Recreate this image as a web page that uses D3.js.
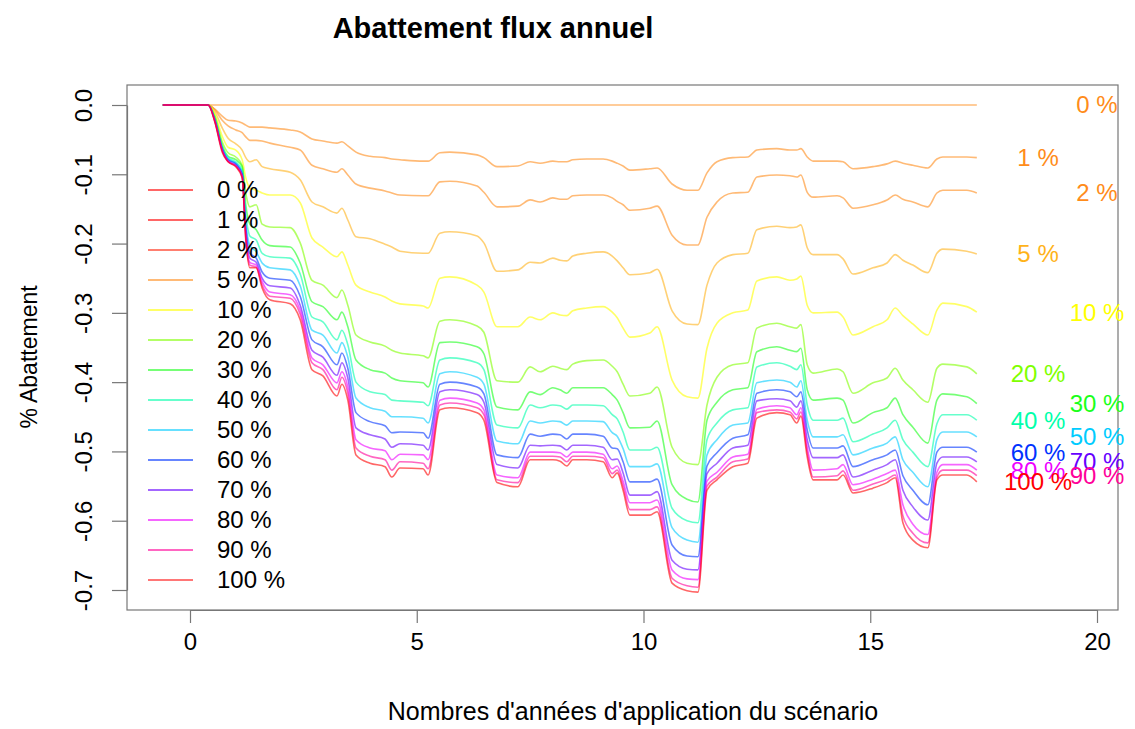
<!DOCTYPE html>
<html><head><meta charset="utf-8">
<script src="https://cdn.jsdelivr.net/npm/d3@7"></script>
<style>
body{margin:0;background:#fff}
text{font-family:"Liberation Sans",Arial,Helvetica,sans-serif}
</style>
</head><body>
<svg id="c" width="1135" height="729"></svg>
<script>
// ---------- data ----------
const years=[-0.6,0.40,0.55,0.71,0.84,1.01,1.15,1.23,1.32,1.46,1.59,1.76,2.21,2.43,2.69,2.93,3.24,3.35,3.48,3.66,3.97,4.30,4.45,4.63,5.14,5.25,5.51,5.73,6.33,6.48,6.77,7.23,7.50,7.72,8.00,8.16,8.31,8.44,8.75,9.11,9.31,9.42,9.55,9.70,10.14,10.30,10.63,10.96,11.20,11.40,11.62,11.97,12.30,12.50,12.94,13.23,13.38,13.47,13.61,13.74,14.27,14.40,14.62,15.06,15.37,15.55,15.72,15.94,16.27,16.47,16.60,17.13,17.35];

const pctLabels=["0 %","1 %","2 %","5 %","10 %","20 %","30 %","40 %","50 %","60 %","70 %","80 %","90 %","100 %"];

const s0=[0,0,0,0,0,0,0,0,0,0,0,0,0,0,0,0,0,0,0,0,0,0,0,0,0,0,0,0,0,0,0,0,0,0,0,0,0,0,0,0,0,0,0,0,0,0,0,0,0,0,0,0,0,0,0,0,0,0,0,0,0,0,0,0,0,0,0,0,0,0,0,0,0];
const s1=[0,0,-.006,-.016,-.022,-.023,-.026,-.029,-.032,-.032,-.032,-.033,-.036,-.039,-.049,-.052,-.055,-.053,-.059,-.068,-.074,-.076,-.078,-.079,-.081,-.081,-.069,-.068,-.072,-.076,-.089,-.088,-.082,-.084,-.081,-.082,-.082,-.079,-.078,-.078,-.081,-.084,-.088,-.094,-.092,-.091,-.114,-.123,-.123,-.098,-.082,-.076,-.075,-.065,-.063,-.065,-.065,-.063,-.075,-.081,-.081,-.082,-.092,-.089,-.085,-.081,-.084,-.087,-.091,-.078,-.075,-.075,-.076];
const s2=[0,0,-.007,-.022,-.030,-.036,-.040,-.046,-.051,-.051,-.052,-.055,-.061,-.065,-.087,-.092,-.097,-.092,-.101,-.114,-.120,-.124,-.127,-.130,-.131,-.131,-.111,-.110,-.117,-.126,-.147,-.146,-.137,-.140,-.134,-.136,-.136,-.131,-.130,-.130,-.134,-.139,-.144,-.152,-.149,-.146,-.188,-.202,-.202,-.162,-.140,-.127,-.126,-.104,-.101,-.102,-.104,-.101,-.126,-.133,-.131,-.134,-.149,-.144,-.137,-.130,-.136,-.140,-.147,-.127,-.123,-.123,-.127];
const s5=[0,0,-.010,-.033,-.048,-.056,-.065,-.076,-.082,-.079,-.089,-.092,-.097,-.108,-.140,-.147,-.156,-.149,-.166,-.190,-.193,-.201,-.205,-.211,-.214,-.214,-.185,-.183,-.189,-.199,-.240,-.238,-.227,-.228,-.221,-.224,-.225,-.218,-.214,-.212,-.218,-.225,-.235,-.245,-.242,-.237,-.297,-.316,-.317,-.260,-.228,-.216,-.214,-.180,-.175,-.177,-.176,-.173,-.206,-.216,-.216,-.222,-.244,-.235,-.228,-.216,-.224,-.231,-.242,-.214,-.208,-.211,-.215];
const s10=[0,0,-.013,-.045,-.061,-.065,-.079,-.105,-.120,-.123,-.127,-.130,-.130,-.141,-.192,-.205,-.219,-.212,-.231,-.260,-.270,-.277,-.283,-.287,-.290,-.293,-.250,-.248,-.260,-.270,-.320,-.320,-.306,-.310,-.300,-.303,-.304,-.297,-.293,-.291,-.299,-.307,-.322,-.335,-.329,-.320,-.397,-.421,-.423,-.351,-.315,-.300,-.296,-.254,-.248,-.253,-.251,-.247,-.289,-.300,-.299,-.306,-.332,-.320,-.310,-.293,-.304,-.316,-.332,-.296,-.286,-.291,-.299];
const s20=[0,0,-.016,-.053,-.069,-.075,-.087,-.127,-.147,-.144,-.172,-.176,-.177,-.199,-.253,-.260,-.278,-.267,-.289,-.332,-.342,-.348,-.354,-.358,-.362,-.365,-.312,-.310,-.319,-.328,-.398,-.400,-.378,-.385,-.377,-.380,-.382,-.374,-.369,-.368,-.377,-.385,-.403,-.420,-.416,-.407,-.494,-.517,-.519,-.433,-.393,-.375,-.372,-.322,-.315,-.320,-.322,-.317,-.375,-.387,-.381,-.385,-.416,-.401,-.394,-.380,-.397,-.411,-.429,-.380,-.374,-.378,-.388];
const s30=[0,0,-.019,-.058,-.074,-.079,-.089,-.144,-.172,-.180,-.195,-.203,-.205,-.228,-.284,-.291,-.310,-.299,-.320,-.368,-.382,-.387,-.394,-.398,-.401,-.407,-.343,-.342,-.349,-.359,-.436,-.440,-.414,-.418,-.408,-.411,-.416,-.408,-.408,-.408,-.418,-.426,-.444,-.466,-.465,-.456,-.548,-.569,-.573,-.455,-.429,-.411,-.408,-.356,-.349,-.354,-.356,-.351,-.411,-.426,-.423,-.426,-.459,-.444,-.437,-.423,-.447,-.465,-.488,-.426,-.417,-.421,-.431];
const s40=[0,0,-.020,-.061,-.076,-.082,-.094,-.157,-.189,-.195,-.214,-.219,-.221,-.244,-.306,-.313,-.339,-.325,-.346,-.400,-.414,-.418,-.426,-.427,-.429,-.434,-.368,-.365,-.372,-.382,-.462,-.466,-.433,-.437,-.433,-.434,-.439,-.433,-.433,-.434,-.447,-.453,-.472,-.498,-.498,-.494,-.582,-.600,-.603,-.483,-.459,-.440,-.437,-.378,-.372,-.377,-.382,-.375,-.433,-.455,-.455,-.452,-.486,-.475,-.466,-.455,-.483,-.501,-.522,-.460,-.447,-.447,-.455];
const s50=[0,0,-.022,-.062,-.078,-.084,-.097,-.169,-.203,-.212,-.228,-.235,-.238,-.261,-.325,-.332,-.358,-.343,-.364,-.423,-.437,-.442,-.450,-.450,-.452,-.459,-.388,-.385,-.393,-.403,-.485,-.489,-.456,-.459,-.456,-.457,-.462,-.456,-.456,-.457,-.473,-.478,-.496,-.522,-.522,-.518,-.610,-.628,-.631,-.505,-.483,-.462,-.459,-.401,-.397,-.400,-.407,-.398,-.455,-.479,-.479,-.476,-.505,-.495,-.488,-.479,-.512,-.530,-.551,-.483,-.472,-.472,-.479];
const s60=[0,0,-.022,-.063,-.079,-.085,-.100,-.177,-.214,-.221,-.241,-.250,-.253,-.276,-.339,-.349,-.375,-.358,-.380,-.444,-.457,-.463,-.473,-.472,-.473,-.481,-.403,-.400,-.407,-.417,-.505,-.509,-.475,-.478,-.475,-.476,-.482,-.475,-.475,-.478,-.495,-.496,-.515,-.544,-.544,-.540,-.635,-.651,-.652,-.521,-.502,-.481,-.476,-.416,-.411,-.414,-.421,-.414,-.469,-.495,-.495,-.492,-.522,-.512,-.505,-.498,-.535,-.556,-.577,-.501,-.494,-.494,-.501];
const s70=[0,0,-.023,-.065,-.081,-.087,-.101,-.183,-.221,-.227,-.250,-.261,-.264,-.289,-.354,-.364,-.390,-.372,-.394,-.466,-.476,-.482,-.494,-.489,-.491,-.498,-.414,-.411,-.418,-.429,-.519,-.524,-.491,-.492,-.491,-.492,-.498,-.491,-.491,-.494,-.512,-.511,-.531,-.563,-.563,-.558,-.657,-.670,-.671,-.532,-.517,-.495,-.491,-.427,-.424,-.427,-.436,-.427,-.483,-.509,-.509,-.505,-.537,-.527,-.519,-.512,-.556,-.580,-.599,-.517,-.508,-.508,-.515];
const s80=[0,0,-.023,-.065,-.081,-.088,-.102,-.189,-.227,-.231,-.255,-.270,-.274,-.296,-.365,-.375,-.401,-.385,-.407,-.483,-.495,-.499,-.512,-.504,-.505,-.512,-.426,-.423,-.430,-.440,-.534,-.538,-.501,-.501,-.501,-.502,-.508,-.501,-.501,-.504,-.525,-.521,-.543,-.574,-.574,-.570,-.671,-.684,-.685,-.543,-.530,-.508,-.504,-.439,-.434,-.437,-.447,-.437,-.494,-.527,-.525,-.519,-.548,-.540,-.532,-.527,-.577,-.605,-.620,-.530,-.519,-.519,-.527];
const s90=[0,0,-.025,-.066,-.082,-.088,-.104,-.192,-.231,-.234,-.260,-.276,-.279,-.302,-.372,-.382,-.411,-.393,-.416,-.495,-.507,-.512,-.527,-.515,-.517,-.525,-.433,-.430,-.437,-.447,-.541,-.545,-.507,-.507,-.507,-.508,-.515,-.507,-.507,-.509,-.532,-.527,-.550,-.584,-.584,-.580,-.683,-.694,-.696,-.550,-.537,-.515,-.511,-.444,-.440,-.443,-.453,-.443,-.501,-.537,-.535,-.528,-.556,-.547,-.540,-.534,-.593,-.618,-.632,-.537,-.527,-.527,-.535];
const s100=[0,0,-.025,-.068,-.082,-.089,-.105,-.195,-.235,-.235,-.264,-.281,-.287,-.310,-.382,-.391,-.420,-.403,-.426,-.505,-.517,-.522,-.537,-.524,-.525,-.534,-.440,-.437,-.444,-.455,-.545,-.551,-.512,-.512,-.512,-.514,-.521,-.512,-.512,-.515,-.538,-.531,-.556,-.592,-.592,-.587,-.690,-.701,-.703,-.556,-.541,-.522,-.517,-.452,-.444,-.447,-.459,-.449,-.508,-.541,-.541,-.534,-.560,-.553,-.545,-.538,-.603,-.628,-.639,-.541,-.534,-.534,-.544];

const seriesValues=[s0,s1,s2,s5,s10,s20,s30,s40,s50,s60,s70,s80,s90,s100];

const xTicks=[0,5,10,15,20];
const yTicks=[0,-0.1,-0.2,-0.3,-0.4,-0.5,-0.6,-0.7];

// ---------- styles ----------
const labelColors=["#FF8C1A","#FF8C1A","#FF8C1A","#FFB31A","#FFFF00","#80FF00","#1AFF1A","#00FFAA","#00CCFF","#0033FF","#6600FF","#EE00FF","#FF0099","#FF0000"];
const legendColors=["#FF0000","#FF0000","#FF2A10","#FF8C1A","#FFFF00","#80FF00","#1AFF1A","#00FFAA","#00CCFF","#0033FF","#6600FF","#EE00FF","#FF0099","#FF1A1A"];
const labelYears=[20,18.7];

const svg=d3.select("#c");
const x=d3.scaleLinear().domain([0,20]).range([190,1097]);
const y=d3.scaleLinear().domain([0,-0.7]).range([105,590]);
const axisColor="#777";

// plot box
svg.append("rect").attr("x",127).attr("y",85).attr("width",991).attr("height",525)
  .attr("fill","none").attr("stroke",axisColor).attr("stroke-width",1.2);

// lines
const line=d3.line().x((d,i)=>x(years[i])).y(d=>y(d)).curve(d3.curveMonotoneX);
seriesValues.forEach((vals,k)=>{
  svg.append("path").datum(vals).attr("d",line)
    .attr("fill","none").attr("stroke",labelColors[k]).attr("stroke-opacity",0.6)
    .attr("stroke-width",1.6).attr("stroke-linejoin","round");
});

// end labels (overlapping at the bottom, as in the reference)
seriesValues.forEach((vals,k)=>{
  svg.append("text").attr("x",x(labelYears[k%2])).attr("y",y(vals[vals.length-1]))
    .attr("dy","0.35em").attr("text-anchor","middle").attr("font-size",24)
    .attr("fill",labelColors[k]).text(pctLabels[k]);
});

// legend
const lg=svg.append("g");
pctLabels.forEach((lab,k)=>{
  const yy=190+30*k;
  lg.append("line").attr("x1",148).attr("x2",193).attr("y1",yy).attr("y2",yy)
    .attr("stroke",legendColors[k]).attr("stroke-opacity",0.6).attr("stroke-width",1.8);
  lg.append("text").attr("x",217).attr("y",yy).attr("dy","0.35em")
    .attr("font-size",24).attr("fill","#000").text(lab);
});

// axes
const ya=svg.append("g").attr("transform","translate(127,0)")
  .call(d3.axisLeft(y).tickValues(yTicks).tickSize(15).tickSizeOuter(0).tickFormat(d=>d.toFixed(1)));
ya.selectAll("text").attr("x",0).attr("dy",0).attr("text-anchor","middle")
  .attr("transform","translate(-35,0) rotate(-90)");
const xa=svg.append("g").attr("transform","translate(0,610)")
  .call(d3.axisBottom(x).tickValues(xTicks).tickSize(13).tickSizeOuter(0).tickPadding(10).tickFormat(d3.format("d")));
[ya,xa].forEach(a=>{
  a.selectAll("path,line").attr("stroke",axisColor).attr("stroke-width",1.2);
  a.selectAll("text").attr("font-size",24).attr("fill","#000")
   .attr("font-family","'Liberation Sans',Arial,Helvetica,sans-serif");
});

// titles
svg.append("text").attr("x",493).attr("y",38).attr("text-anchor","middle")
  .attr("font-size",29).attr("font-weight","bold").text("Abattement flux annuel");
svg.append("text").attr("x",633).attr("y",720).attr("text-anchor","middle")
  .attr("font-size",25).text("Nombres d'années d'application du scénario");
svg.append("text").attr("transform","translate(37,357) rotate(-90)").attr("text-anchor","middle")
  .attr("font-size",23).text("% Abattement");
</script>
</body></html>
